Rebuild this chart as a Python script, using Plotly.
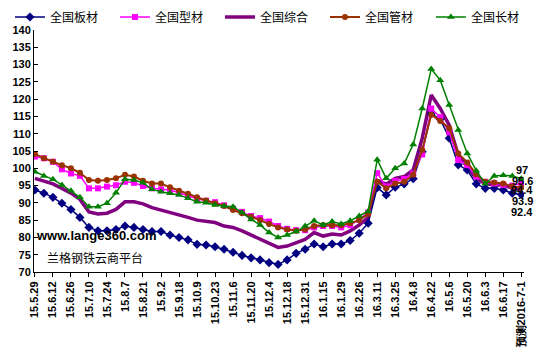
import plotly.graph_objects as go

dates = ["15.5.29", "15.6.5", "15.6.12", "15.6.19", "15.6.26", "15.7.3", "15.7.10", "15.7.17",
         "15.7.24", "15.7.31", "15.8.7", "15.8.14", "15.8.21", "15.8.28", "15.9.2", "15.9.11",
         "15.9.18", "15.9.25", "15.10.9", "15.10.16", "15.10.23", "15.10.30", "15.11.6", "15.11.13",
         "15.11.20", "15.11.27", "15.12.4", "15.12.11", "15.12.18", "15.12.25", "15.12.31", "16.1.8",
         "16.1.15", "16.1.22", "16.1.29", "16.2.19", "16.2.26", "16.3.4", "16.3.11", "16.3.18",
         "16.3.25", "16.4.1", "16.4.8", "16.4.15", "16.4.22", "16.4.29", "16.5.6", "16.5.13",
         "16.5.20", "16.5.27", "16.6.3", "16.6.12", "16.6.17", "16.6.24", "预测2016-7-1"]

banca = [93.7, 92.8, 91.6, 89.9, 88.1, 85.8, 82.9, 81.9, 81.9, 82.3, 83.3, 82.9, 82.3, 81.7, 81.7,
         80.7, 80.0, 79.3, 78.0, 77.8, 77.3, 76.6, 75.7, 74.8, 74.1, 73.5, 72.7, 72.2, 73.5, 75.4,
         76.6, 78.1, 77.3, 78.1, 78.1, 79.1, 81.2, 84.1, 94.4, 92.3, 94.5, 95.5, 97.0, 104.8, 115.8,
         114.2, 108.7, 101.0, 99.5, 95.5, 94.2, 94.2, 93.7, 92.8, 92.4]
xingcai = [103.4, 102.9, 101.9, 99.7, 98.5, 97.8, 94.2, 94.2, 94.7, 95.1, 96.1, 95.8, 94.9, 94.2, 93.9,
           93.7, 92.9, 92.0, 91.2, 90.6, 90.2, 89.3, 88.3, 87.4, 86.2, 85.6, 84.6, 83.3, 82.5, 82.1,
           82.1, 82.9, 83.3, 83.3, 82.9, 83.5, 85.2, 87.2, 98.6, 94.7, 96.3, 96.9, 98.5, 104.0, 117.3,
           114.8, 110.4, 102.4, 100.9, 97.6, 96.1, 95.6, 95.2, 95.0, 95.6]
zonghe = [97.1, 96.4, 95.5, 94.2, 92.8, 91.0, 87.4, 86.8, 87.0, 88.1, 90.3, 90.3, 89.7, 88.6, 87.9,
          87.4, 86.5, 85.8, 85.0, 84.7, 84.3, 83.3, 82.9, 81.9, 80.7, 79.7, 78.3, 77.1, 77.5, 78.5,
          79.4, 81.4, 80.4, 81.0, 80.7, 81.9, 83.6, 85.8, 96.5, 95.4, 97.1, 97.6, 99.5, 108.7, 121.2,
          117.3, 112.5, 103.8, 100.5, 97.1, 95.6, 95.2, 95.2, 94.2, 93.9]
guancai = [104.1, 102.9, 101.9, 100.9, 100.0, 98.7, 96.6, 96.4, 96.6, 97.1, 98.1, 97.6, 96.4, 95.6, 95.6,
           94.5, 93.5, 92.6, 91.6, 90.7, 89.9, 89.1, 87.9, 87.0, 86.0, 85.0, 83.9, 82.9, 82.3, 81.9,
           82.3, 83.3, 83.6, 83.5, 83.5, 84.1, 85.0, 86.8, 96.1, 94.2, 95.6, 96.1, 98.1, 105.3, 115.5,
           113.7, 111.6, 104.3, 101.7, 98.3, 96.1, 95.9, 95.6, 94.8, 94.4]
changcai = [99.0, 97.8, 96.8, 95.2, 93.5, 91.6, 88.9, 88.9, 89.9, 92.9, 96.8, 96.6, 95.8, 93.9, 93.2,
            92.8, 92.3, 91.3, 90.3, 90.0, 89.4, 89.1, 88.9, 87.2, 85.2, 83.6, 81.4, 80.0, 80.7, 81.7,
            83.3, 84.8, 83.6, 84.6, 83.9, 84.8, 86.2, 87.6, 102.5, 97.1, 100.0, 101.4, 106.9, 117.3, 128.7,
            125.5, 118.3, 111.1, 104.3, 99.3, 95.5, 97.8, 98.0, 97.8, 97.0]

end_label_shift = {"全国长材": 9, "全国型材": 3, "全国管材": -2, "全国综合": -12, "全国板材": -17}

x = list(range(len(dates)))
tick_idx = x[::2]
tick_txt = [dates[i] for i in tick_idx]

fig = go.Figure()

fig.add_trace(go.Scatter(x=x, y=zonghe, name="全国综合", mode="lines",
                         line=dict(color="#800080", width=3.5), legendrank=3))
fig.add_trace(go.Scatter(x=x, y=banca, name="全国板材", mode="lines+markers",
                         line=dict(color="#000080", width=1.5),
                         marker=dict(symbol="diamond", size=7, color="#000080"), legendrank=1))
fig.add_trace(go.Scatter(x=x, y=xingcai, name="全国型材", mode="lines+markers",
                         line=dict(color="#FF00FF", width=1.5),
                         marker=dict(symbol="square", size=6, color="#FF00FF"), legendrank=2))
fig.add_trace(go.Scatter(x=x, y=guancai, name="全国管材", mode="lines+markers",
                         line=dict(color="#993300", width=2),
                         marker=dict(symbol="circle", size=6, color="#993300"), legendrank=4))
fig.add_trace(go.Scatter(x=x, y=changcai, name="全国长材", mode="lines+markers",
                         line=dict(color="#008000", width=1.5),
                         marker=dict(symbol="triangle-up", size=7, color="#008000"),
                         legend="legend2"))

series = {"全国板材": banca, "全国型材": xingcai, "全国综合": zonghe, "全国管材": guancai, "全国长材": changcai}
annotations = []
for nm, vals in series.items():
    annotations.append(dict(x=x[-1], y=vals[-1], xref="x", yref="y", text=f"{vals[-1]:g}",
                            showarrow=False, xshift=1, yshift=end_label_shift[nm],
                            font=dict(family="Liberation Sans", size=11, color="black", weight="bold")))
annotations.append(dict(x=0.0, y=0.149, xref="paper", yref="paper", text="www.lange360.com",
                        showarrow=False, xanchor="left", yanchor="middle",
                        font=dict(family="Liberation Sans", size=13, color="black", weight="bold")))
annotations.append(dict(x=0.022, y=0.058, xref="paper", yref="paper", text="兰格钢铁云商平台",
                        showarrow=False, xanchor="left", yanchor="middle",
                        font=dict(family="Noto Sans CJK SC", size=12, color="black")))

legend_common = dict(orientation="h", yanchor="middle", y=1.054, xanchor="left",
                     entrywidth=60, entrywidthmode="pixels", traceorder="normal",
                     font=dict(family="Noto Sans CJK SC", size=12, color="black"),
                     bgcolor="rgba(0,0,0,0)", itemwidth=30, tracegroupgap=0)

fig.update_layout(
    width=534, height=353,
    margin=dict(l=26, r=18, t=22, b=89, autoexpand=False),
    paper_bgcolor="white", plot_bgcolor="white",
    showlegend=True,
    legend=dict(x=-0.049, **legend_common),
    legend2=dict(x=0.81, **legend_common),
    annotations=annotations,
    font=dict(family="Liberation Sans", color="black"),
)
fig.update_xaxes(range=[-0.1, 54.3], tickmode="array", tickvals=tick_idx, ticktext=tick_txt,
                 tickangle=-90, showgrid=False, zeroline=False, showline=True,
                 linecolor="black", linewidth=1, ticks="outside", ticklen=4, tickcolor="black",
                 tickfont=dict(family="Liberation Sans", size=11, color="black", weight="bold"))
fig.update_yaxes(range=[70, 140], dtick=5, showgrid=False, zeroline=False, showline=True,
                 linecolor="black", linewidth=1, ticks="inside", ticklen=4, tickcolor="black",
                 tickfont=dict(family="Liberation Sans", size=11, color="black", weight="bold"))

fig.write_html("out.html")
